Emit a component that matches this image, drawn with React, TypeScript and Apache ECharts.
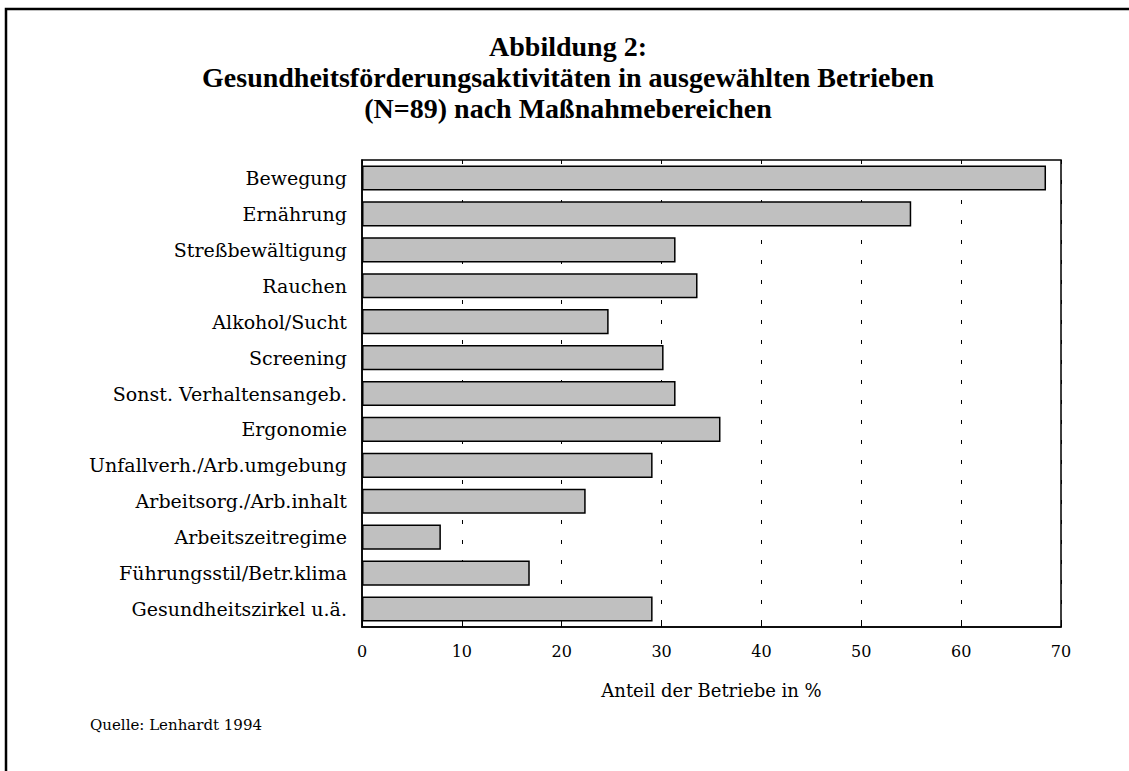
import React, { useEffect, useRef } from "react";
import * as echarts from "echarts";

const categories = [
  "Bewegung",
  "Ernährung",
  "Streßbewältigung",
  "Rauchen",
  "Alkohol/Sucht",
  "Screening",
  "Sonst. Verhaltensangeb.",
  "Ergonomie",
  "Unfallverh./Arb.umgebung",
  "Arbeitsorg./Arb.inhalt",
  "Arbeitszeitregime",
  "Führungsstil/Betr.klima",
  "Gesundheitszirkel u.ä.",
];
const values = [68.5, 55.0, 31.4, 33.6, 24.7, 30.2, 31.4, 35.9, 29.1, 22.4, 7.9, 16.8, 29.1];
const titleLines = [
  "Abbildung 2:",
  "Gesundheitsförderungsaktivitäten in ausgewählten Betrieben",
  "(N=89) nach Maßnahmebereichen",
];
const xAxisName = "Anteil der Betriebe in %";
const sourceText = "Quelle: Lenhardt 1994";

const serif = "'DejaVu Serif', serif";
const titleFont = "'Liberation Serif', serif";

export default function App() {
  const ref = useRef<HTMLDivElement>(null);
  useEffect(() => {
    if (!ref.current) return;
    const chart = echarts.init(ref.current, undefined, { renderer: "svg" });
    const titleY = [46, 77, 108];
    chart.setOption({
      animation: false,
      backgroundColor: "#ffffff",
      graphic: [
        {
          type: "rect",
          shape: { x: 6, y: 9, width: 1300, height: 900 },
          style: { fill: "none", stroke: "#000", lineWidth: 2.5 },
          silent: true,
        },
        ...titleLines.map((t, i) => ({
          type: "text",
          x: 568,
          y: titleY[i],
          style: {
            text: t,
            fontFamily: titleFont,
            fontWeight: "bold",
            fontSize: 28,
            fill: "#000",
            textAlign: "center",
            textVerticalAlign: "middle",
          },
        })),
        {
          type: "text",
          x: 90,
          y: 725,
          style: {
            text: sourceText,
            fontFamily: serif,
            fontSize: 15,
            fill: "#000",
            textVerticalAlign: "middle",
          },
        },
      ],
      grid: {
        left: 362,
        top: 160,
        right: 68,
        bottom: 144,
        show: true,
        borderColor: "#000",
        borderWidth: 1.5,
        backgroundColor: "transparent",
      },
      xAxis: {
        type: "value",
        min: 0,
        max: 70,
        interval: 10,
        name: xAxisName,
        nameLocation: "middle",
        nameGap: 54,
        nameTextStyle: { fontFamily: serif, fontSize: 18, color: "#000" },
        axisLine: { show: true, lineStyle: { color: "#000", width: 1.5 } },
        axisTick: { show: true, inside: true, length: 5, lineStyle: { color: "#000" } },
        axisLabel: { fontFamily: serif, fontSize: 16, color: "#000", margin: 16 },
        splitLine: {
          show: true,
          lineStyle: { color: "#000", width: 1, type: [4, 16] },
        },
      },
      yAxis: {
        type: "category",
        data: categories,
        inverse: true,
        axisLine: { show: true, lineStyle: { color: "#000", width: 1.5 } },
        axisTick: { show: false },
        axisLabel: { fontFamily: serif, fontSize: 19, color: "#000", margin: 15 },
      },
      series: [
        {
          type: "bar",
          data: values,
          barCategoryGap: "30%",
          itemStyle: { color: "#c0c0c0", borderColor: "#000", borderWidth: 1.5 },
        },
      ],
    });
    return () => chart.dispose();
  }, []);
  return (
    <div
      ref={ref}
      style={{ position: "fixed", left: 0, top: 0, width: 1129, height: 771 }}
    />
  );
}
